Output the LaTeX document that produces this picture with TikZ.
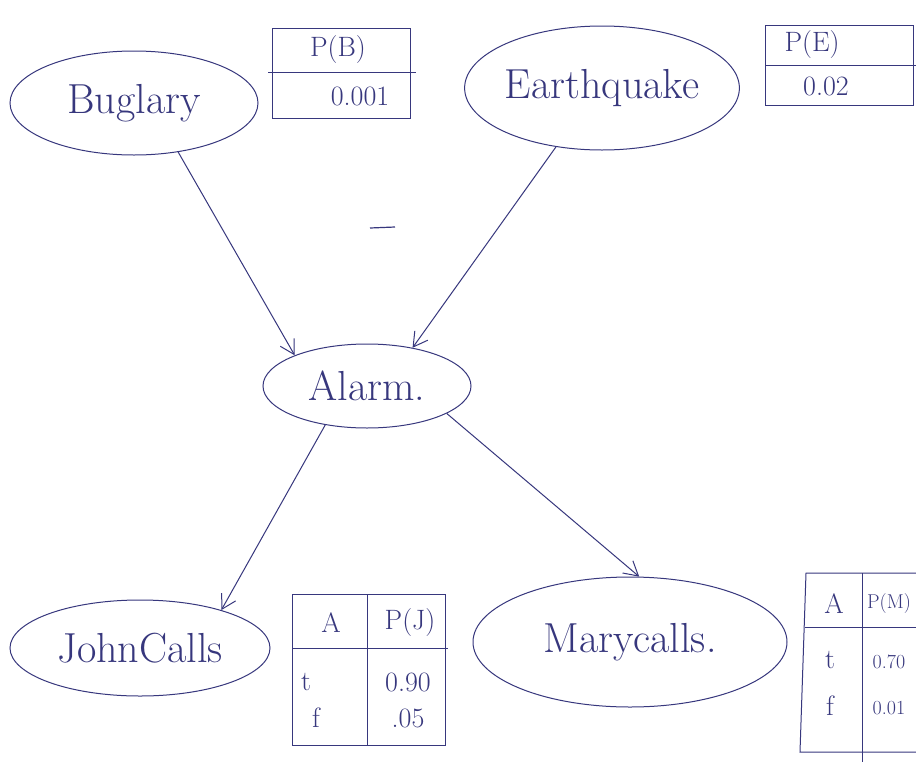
\documentclass[tikz,border=0pt]{standalone}
\usetikzlibrary{shapes.geometric,arrows.meta}
\definecolor{ink}{RGB}{55,55,125}
\begin{document}
\begin{tikzpicture}[x=1pt,y=-1pt,
  ell/.style={ellipse,draw=ink,line width=1pt,inner sep=0pt,text=ink,font=\fontsize{42}{48}\selectfont},
  arr/.style={draw=ink,line width=1pt,-{Straight Barb[length=14pt,width=16pt]}},
  tbl/.style={draw=ink,line width=1pt},
  cell/.style={text=ink,inner sep=0pt,font=\fontsize{28}{32}\selectfont},
  scell/.style={text=ink,inner sep=0pt,font=\fontsize{20}{24}\selectfont}]
\useasboundingbox[fill=white] (0,0) rectangle (916,774);
% nodes
\node[ell,minimum width=248pt,minimum height=104pt] (B) at (134,103) {Buglary};
\node[ell,minimum width=256pt,minimum height=124pt] (E) at (602,88) {Earthquake};
\node[ell,minimum width=208pt,minimum height=84pt] (A) at (367,386) {Alarm.};
\node[ell,minimum width=260pt,minimum height=96pt] (J) at (140,648) {JohnCalls};
\node[ell,minimum width=314pt,minimum height=130pt] (M) at (630,642) {Marycalls.};
% edges
\draw[arr] (B.-48.5) -- (A.157);
\draw[arr] (E.232.8) -- (A.40.8);
\draw[arr] (A.223) -- (J.25.4);
\draw[arr] (A.-19.5) -- (M.82);
% stray dash
\draw[ink,line width=1.2pt] (370,228) -- (395,227);
% table P(B)
\draw[tbl] (272,28) rectangle (410,118);
\draw[tbl] (268,72) -- (416,72);
\node[cell] (pb) at (338,50) {P(B)};
\node[cell] (pbv) at (360,96) {0.001};
% table P(E)
\draw[tbl] (765,25) rectangle (913,105);
\draw[tbl] (765,65) -- (916,65);
\node[cell] (pe) at (812,45) {P(E)};
\node[cell] (pev) at (826,86) {0.02};
% table P(J)
\draw[tbl] (292,594) rectangle (445,745);
\draw[tbl] (292,648) -- (448,648);
\draw[tbl] (367,594) -- (367,745);
\node[cell] (ja) at (331,623) {A};
\node[cell] (jp) at (410,623) {P(J)};
\node[cell] (jt) at (306,682) {t};
\node[cell] (jtv) at (408,682) {0.90};
\node[cell] (jf) at (316,718) {f};
\node[cell] (jfv) at (408,718) {.05};
% table P(M) (right side runs off the page)
\draw[tbl] (916,573) -- (806,573) -- (800,752) -- (916,752);
\draw[tbl] (805,627) -- (916,627);
\draw[tbl] (862,573) -- (862,762);
\node[cell] (ma) at (834,604) {A};
\node[scell] (mp) at (889,604) {P(M)};
\node[cell] (mt) at (830,660) {t};
\node[scell] (mtv) at (889,662) {0.70};
\node[cell] (mf) at (830,706) {f};
\node[scell] (mfv) at (889,708) {0.01};
\end{tikzpicture}
\end{document}
